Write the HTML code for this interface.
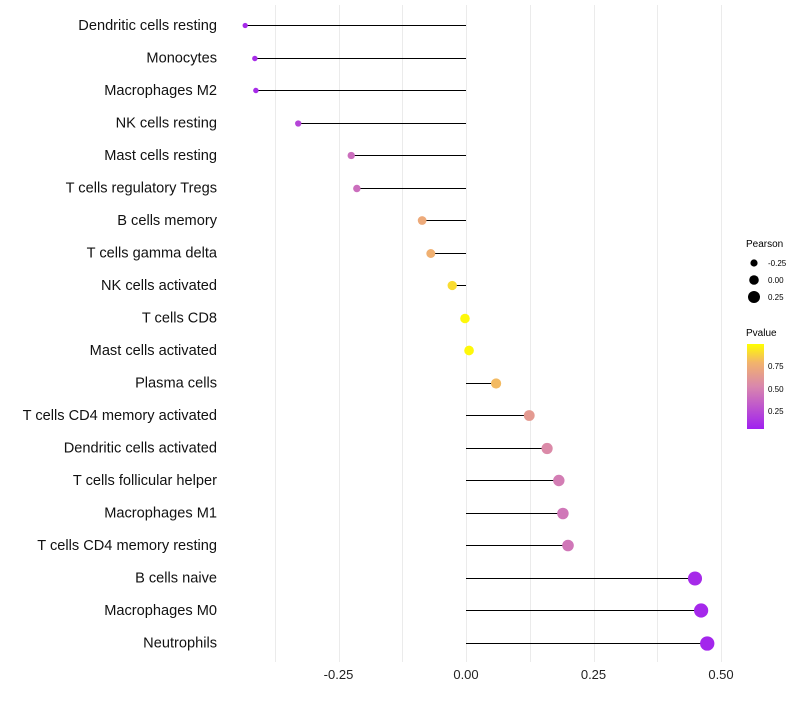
<!DOCTYPE html>
<html><head><meta charset="utf-8"><style>body{margin:0;background:#fff}svg text{font-family:"Liberation Sans",sans-serif}</style></head>
<body>
<svg id="c" width="800" height="700">
<defs><linearGradient id="pg" x1="0" y1="1" x2="0" y2="0">
<stop offset="0" stop-color="#a020f0"/><stop offset="0.5" stop-color="#d987ad"/><stop offset="0.78" stop-color="#f2b36c"/><stop offset="1" stop-color="#ffff00"/></linearGradient></defs>
<g id="grid"></g><g id="marks"></g><g id="labels"></g><g id="xaxis"></g>
<g>
<text x="746" y="247" font-size="10">Pearson</text>
<circle cx="754" cy="263" r="3.6" fill="#000"/><text x="768" y="266" font-size="8">-0.25</text>
<circle cx="754" cy="280" r="4.8" fill="#000"/><text x="768" y="283" font-size="8">0.00</text>
<circle cx="754" cy="297" r="6" fill="#000"/><text x="768" y="300" font-size="8">0.25</text>
<text x="746" y="336" font-size="10">Pvalue</text>
<rect x="747" y="344" width="17" height="85" fill="url(#pg)"/>
<text x="768" y="369" font-size="8">0.75</text><text x="768" y="392" font-size="8">0.50</text><text x="768" y="414" font-size="8">0.25</text>
</g>
</svg>
<script>
const cats=["Dendritic cells resting","Monocytes","Macrophages M2","NK cells resting","Mast cells resting","T cells regulatory  Tregs","B cells memory","T cells gamma delta","NK cells activated","T cells CD8","Mast cells activated","Plasma cells","T cells CD4 memory activated","Dendritic cells activated","T cells follicular helper","Macrophages M1","T cells CD4 memory resting","B cells naive","Macrophages M0","Neutrophils"];
const pearson=[-0.433,-0.414,-0.412,-0.329,-0.225,-0.214,-0.086,-0.069,-0.027,-0.002,0.006,0.059,0.124,0.159,0.182,0.190,0.200,0.449,0.461,0.473];
const pvals=[0.05,0.06,0.06,0.18,0.38,0.38,0.72,0.76,0.9,0.98,0.98,0.8,0.62,0.52,0.45,0.42,0.42,0.05,0.04,0.03];
const ticks=[-0.25,0,0.25,0.5];
const tickLabels=["-0.25","0.00","0.25","0.50"];
const NS="http://www.w3.org/2000/svg";
const X=v=>466+v*510;
const Y=i=>25+i*32.5;
const R=v=>4.8+v*5;
function col(p){const st=[[0,[160,32,240]],[0.5,[217,135,173]],[0.78,[242,179,108]],[1,[255,255,0]]];
 for(let k=1;k<st.length;k++){if(p<=st[k][0]){const a=st[k-1],b=st[k],t=(p-a[0])/(b[0]-a[0]);return 'rgb('+a[1].map((c,j)=>Math.round(c+(b[1][j]-c)*t)).join(',')+')';}}return 'rgb(255,255,0)';}
function mk(t,a,p){const e=document.createElementNS(NS,t);for(const k in a)e.setAttribute(k,a[k]);document.getElementById(p).appendChild(e);return e;}
for(let g=-0.375;g<=0.5;g+=0.125){const l=mk('line',{x1:Math.round(X(g))+0.5,x2:Math.round(X(g))+0.5,y1:5,y2:662,stroke:'#ebebeb','stroke-width':1},'grid');

}
ticks.forEach((t,i)=>{const e=mk('text',{x:X(t),y:679,'font-size':13,'text-anchor':'middle',fill:'#222'},'xaxis');e.textContent=tickLabels[i];

});
cats.forEach((c,i)=>{
 const yy=Math.round(Y(i))+0.5;
 const t=mk('text',{x:217,y:Y(i)+5,'font-size':14.6,'text-anchor':'end',fill:'#111','xml:space':'preserve'},'labels');t.textContent=c;
 
 
 const l=mk('line',{x1:X(0),x2:X(pearson[i]),y1:yy,y2:yy,stroke:'#000','stroke-width':1,'shape-rendering':'crispEdges'},'marks');
 
 
 const d=mk('circle',{cx:X(pearson[i]),cy:yy,r:R(pearson[i]),fill:col(pvals[i])},'marks');
 
 
});
</script>
</body></html>
